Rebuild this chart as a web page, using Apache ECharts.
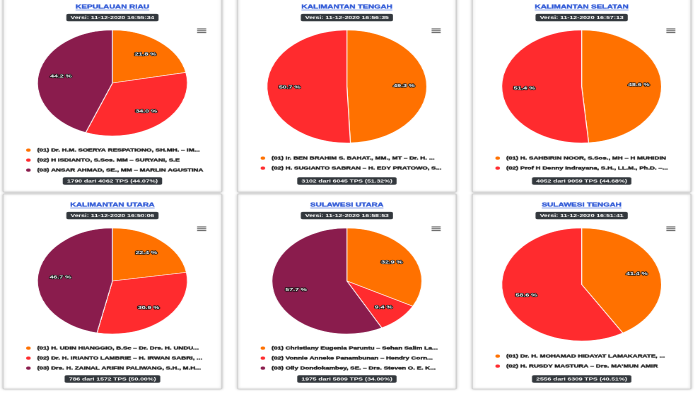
<!DOCTYPE html>
<html>
<head>
<meta charset="utf-8">
<script src="https://cdn.jsdelivr.net/npm/echarts@6/dist/echarts.min.js"></script>
<style>
html,body{margin:0;padding:0;background:#ffffff;overflow:hidden;}
#wrap{width:700px;height:393px;overflow:hidden;position:relative;}
#chart{width:495px;height:393px;transform:scaleX(1.41414);transform-origin:0 0;position:absolute;left:0;top:0;}
</style>
</head>
<body>
<div id="wrap"><div id="chart"></div></div>
<script>
// ---- data ----
const regions = ['KEPULAUAN RIAU','KALIMANTAN TENGAH','KALIMANTAN SELATAN','KALIMANTAN UTARA','SULAWESI UTARA','SULAWESI TENGAH'];
const versions = ['Versi: 11-12-2020 16:55:34','Versi: 11-12-2020 16:56:35','Versi: 11-12-2020 16:57:13','Versi: 11-12-2020 16:50:06','Versi: 11-12-2020 16:58:53','Versi: 11-12-2020 16:51:41'];
const progress = ['1790 dari 4062 TPS (44.07%)','3102 dari 6045 TPS (51.32%)','4052 dari 9059 TPS (44.68%)','786 dari 1572 TPS (50.00%)','1975 dari 5809 TPS (34.00%)','2556 dari 6309 TPS (40.51%)'];

const kepriNames = ['(01) Dr. H.M. SOERYA RESPATIONO, SH.MH. – IM...','(02) H ISDIANTO, S.Sos. MM – SURYANI, S.E','(03) ANSAR AHMAD, SE., MM – MARLIN AGUSTINA'];
const kepriValues = [21.8, 34.0, 44.2];
const kaltengNames = ['(01) Ir. BEN BRAHIM S. BAHAT., MM., MT – Dr. H. ...','(02) H. SUGIANTO SABRAN – H. EDY PRATOWO, S...'];
const kaltengValues = [49.3, 50.7];
const kalselNames = ['(01) H. SAHBIRIN NOOR, S.Sos., MH – H MUHIDIN','(02) Prof H Denny Indrayana, S.H., LL.M., Ph.D. –...'];
const kalselValues = [48.6, 51.4];
const kaltaraNames = ['(01) H. UDIN HIANGGIO, B.Sc – Dr. Drs. H. UNDU...','(02) Dr. H. IRIANTO LAMBRIE – H. IRWAN SABRI, ...','(03) Drs. H. ZAINAL ARIFIN PALIWANG, S.H., M.H...'];
const kaltaraValues = [22.4, 30.9, 46.7];
const sulutNames = ['(01) Christiany Eugenia Paruntu – Sehan Salim La...','(02) Vonnie Anneke Panambunan – Hendry Corn...','(03) Olly Dondokambey, SE. – Drs. Steven O. E. K...'];
const sulutValues = [32.9, 9.4, 57.7];
const sultengNames = ['(01) Dr. H. MOHAMAD HIDAYAT LAMAKARATE, ...','(02) H. RUSDY MASTURA – Drs. MA\'MUN AMIR'];
const sultengValues = [41.4, 58.6];

const sliceColors = ['#ff7100', '#ff2b2e', '#8a1c4d'];

const panelNames = [kepriNames, kaltengNames, kalselNames, kaltaraNames, sulutNames, sultengNames];
const panelValues = [kepriValues, kaltengValues, kalselValues, kaltaraValues, sulutValues, sultengValues];

// ---- layout ----
const FONT = '"Liberation Sans", Arial, sans-serif';
const colX = [79.5, 245.3, 411.3];
const ROW = 198;
const measure = document.createElement('canvas').getContext('2d');
measure.font = 'bold 5.8px ' + FONT;

const series = [], legends = [], graphics = [];

regions.forEach((reg, i) => {
  const col = i % 3, row = Math.floor(i / 3);
  const dy = row * ROW;
  const cx = colX[col];
  const names = panelNames[i], vals = panelValues[i];
  const n = vals.length;
  const cy = (n === 3 ? 83 : 86.5) + dy;
  const r = n === 3 ? 53 : 56.5;

  // card
  graphics.push({type:'rect', z:0, shape:{x:cx-77.3, y:-4+dy, width:154.6, height: row===0?196:195, r:1},
    style:{fill:'#ffffff', stroke:'#d0d0d0', lineWidth:0.8, shadowBlur:2, shadowColor:'rgba(0,0,0,0.2)'}});
  // title
  const ty = 7 + dy;
  graphics.push({type:'text', z:5, x:cx, y:ty, style:{text:reg, fill:'#2a55d6', stroke:'#2a55d6', lineWidth:0.25, fontSize:5.8, fontWeight:'bold', fontFamily:FONT, align:'center', verticalAlign:'middle'}});
  const tw = measure.measureText(reg).width;
  graphics.push({type:'rect', z:5, shape:{x:cx-tw/2, y:ty+2.7, width:tw, height:0.55}, style:{fill:'#2a55d6'}});
  // version badge
  graphics.push({type:'text', z:5, x:cx, y:17.6+dy, style:{text:versions[i], fill:'#ffffff', fontSize:4.8, fontWeight:'bold', fontFamily:FONT,
    align:'center', verticalAlign:'middle', backgroundColor:'#33383d', padding:[1.3,3,1.1,3], borderRadius:1.5}});
  // progress badge
  graphics.push({type:'text', z:5, x:cx, y:181+dy, style:{text:progress[i], fill:'#ffffff', fontSize:4.8, fontWeight:'bold', fontFamily:FONT,
    align:'center', verticalAlign:'middle', backgroundColor:'#33383d', padding:[1.3,3,1.1,3], borderRadius:1.5}});
  // menu icon
  [28.9, 30.75, 32.6].forEach(yy => {
    graphics.push({type:'rect', z:5, shape:{x:cx+59.9, y:yy-0.45+dy, width:6.4, height:0.95}, style:{fill:'#555555'}});
  });

  const data = names.map((nm, k) => ({name:nm, value:vals[k], itemStyle:{color:sliceColors[k]}}));
  series.push({
    type:'pie', center:[cx, cy], radius:r, startAngle:90, clockwise:true, silent:true,
    avoidLabelOverlap:false, label:{show:false}, labelLine:{show:false},
    itemStyle:{borderColor:'#ffffff', borderWidth:0.6},
    emphasis:{disabled:true}, data: data
  });
  series.push({
    type:'pie', center:[cx, cy], radius:2*(r-19), startAngle:90, clockwise:true, silent:true,
    avoidLabelOverlap:false, legendHoverLink:false, labelLine:{show:false},
    itemStyle:{color:'rgba(0,0,0,0)', borderWidth:0},
    label:{show:true, position:'inside', formatter: p => p.value.toFixed(1) + ' %', color:'#ffffff',
      fontSize:4.9, fontWeight:'bold', fontFamily:FONT, textBorderColor:'#111', textBorderWidth:1.3},
    emphasis:{disabled:true},
    data: names.map((nm, k) => ({name:nm, value:vals[k]}))
  });

  const firstY = (n === 3 ? 149 : 157) + dy;
  legends.push({
    orient:'vertical', left: cx - 63, top: firstY - 2.5, padding:0, itemGap:2.8, itemWidth:5.2, itemHeight:5.2,
    icon:'circle', selectedMode:false, data: names,
    textStyle:{fontSize:4.8, fontWeight:'bold', color:'#1a1a1a', textBorderColor:'#1a1a1a', textBorderWidth:0.3,
      fontFamily:FONT, lineHeight:5.2, padding:[0,0,0,-1.5]}
  });
});

const chart = echarts.init(document.getElementById('chart'), null, {devicePixelRatio: 2});
chart.setOption({
  animation:false,
  backgroundColor:'#ffffff',
  legend: legends,
  graphic: graphics,
  series: series
});
</script>
</body>
</html>
